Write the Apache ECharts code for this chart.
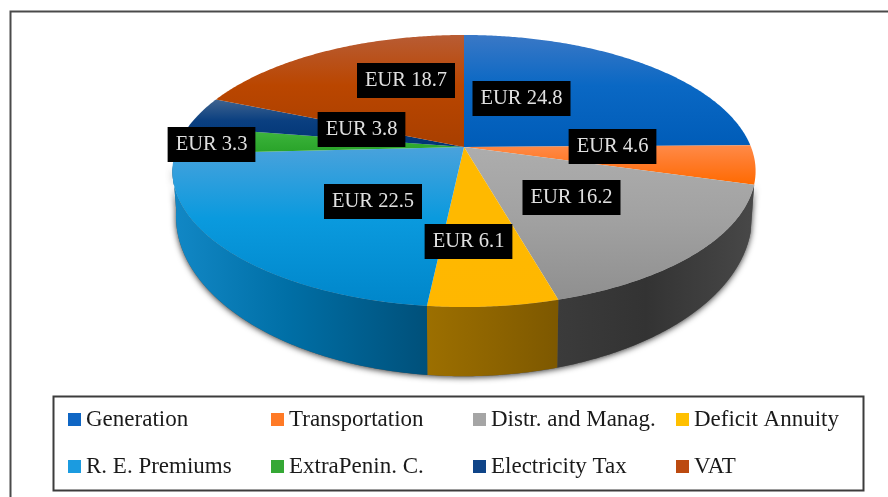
<!DOCTYPE html>
<html>
<head>
<meta charset="utf-8">
<title>Electricity cost breakdown</title>
<script src="https://cdn.jsdelivr.net/npm/echarts@6/dist/echarts.min.js"></script>
<style>
  html, body { margin: 0; padding: 0; background: #fff; }
  #chart { width: 888px; height: 497px; }
</style>
</head>
<body>
<div id="chart"></div>
<script>
// categories and values, clockwise from 12 o'clock
const categories = ['Generation', 'Transportation', 'Distr. and Manag.', 'Deficit Annuity',
  'R. E. Premiums', 'ExtraPenin. C.', 'Electricity Tax', 'VAT'];
const values = [24.8, 4.6, 16.2, 6.1, 22.5, 3.3, 3.8, 18.7];

// slice colours: legend, top surface (far to near), side wall (left to right)
const legendColors = ['#0f66c4', '#ff7a26', '#a5a5a5', '#ffc000', '#1b9be0', '#35a835', '#0f4488', '#bc4a10'];
const topColors = [
  ['#3a78c6', '#0a68c4', '#005cb8'],
  ['#ff8a48', '#ff7a28', '#ff6a00'],
  ['#adadad', '#a2a2a2', '#8f8f8f'],
  ['#ffb900', '#ffb900', '#ffb700'],
  ['#4aa2dc', '#0a9ade', '#0086ca'],
  ['#45b845', '#35ae35', '#28a228'],
  ['#40648f', '#0a3f80', '#003474'],
  ['#b85c34', '#ba4600', '#a83f00']
];
const wallColors = [
  ['#00447f', '#00447f', '#00447f'],
  ['#a84800', '#a84800', '#a84800'],
  ['#3b3b3b', '#333333', '#484848'],
  ['#9c6f00', '#8f6500', '#7d5800'],
  ['#1288c6', '#006fa6', '#00507a'],
  ['#1c6a1c', '#1c6a1c', '#1c6a1c'],
  ['#00244f', '#00244f', '#00244f'],
  ['#702a00', '#702a00', '#702a00']
];

// label box centres (placed by hand in the original chart)
const labelCenters = [[521.5, 98.5], [612.5, 146.5], [571.5, 197.5], [468.5, 241.5],
  [373, 201.5], [211.5, 144.5], [361.5, 129.5], [406, 80.5]];

// projected discs: shared centre x and perspective, own half axes and apex y
const CX = 464, PERSP = 0.1765;
const TOP_DISC = { y: 147, rx: 287, ry: 131.8 };
const BOTTOM_DISC = { y: 188, rx: 283.5, ry: 155 };
// part of the rim where the wall shows, in degrees
const WALL_FROM = 105.5, WALL_TO = 262;

const total = values.reduce((a, b) => a + b, 0);
const startAngles = values.map((_, i) => values.slice(0, i).reduce((a, b) => a + b, 0) / total * 360);

function rimPoint(deg, disc) {
  const a = deg * Math.PI / 180;
  const u = Math.sin(a), v = Math.cos(a);
  const w = 1 + PERSP * v;
  return [CX + disc.rx * u / w, disc.y - disc.ry * v / w];
}

function arcPoints(from, to, disc) {
  const pts = [];
  const n = Math.max(2, Math.ceil((to - from) * 2));
  for (let i = 0; i <= n; i++) pts.push(rimPoint(from + (to - from) * i / n, disc));
  return pts;
}

function wallPoints(from, to) {
  return arcPoints(from, to, TOP_DISC).concat(arcPoints(from, to, BOTTOM_DISC).reverse());
}

function gradient(x2, y2, c) {
  return new echarts.graphic.LinearGradient(0, 0, x2, y2, [
    { offset: 0, color: c[0] }, { offset: 0.45, color: c[1] }, { offset: 1, color: c[2] }
  ]);
}

function renderSlice(i, api) {
  const a0 = startAngles[i];
  const a1 = a0 + api.value(0) / total * 360;
  const children = [];
  const w0 = Math.max(a0, WALL_FROM), w1 = Math.min(a1, WALL_TO);
  if (w1 - w0 > 1) {
    children.push({
      type: 'polygon',
      z2: 1,
      shape: { points: wallPoints(w0, w1) },
      style: { fill: gradient(1, 0, wallColors[i]) }
    });
  }
  children.push({
    type: 'polygon',
    z2: 2,
    shape: { points: [[CX, TOP_DISC.y]].concat(arcPoints(a0, a1, TOP_DISC)) },
    style: { fill: gradient(0, 1, topColors[i]) }
  });
  return { type: 'group', children: children };
}

const sliceSeries = categories.map((name, i) => ({
  type: 'custom',
  name: name,
  coordinateSystem: 'none',
  z: 2,
  silent: true,
  animation: false,
  itemStyle: { color: legendColors[i] },
  data: [[values[i]]],
  renderItem: (params, api) => renderSlice(i, api)
}));

// soft shadow under the wall
const shadowSeries = {
  type: 'custom',
  name: 'shadow',
  coordinateSystem: 'none',
  z: 1,
  silent: true,
  animation: false,
  data: [[total]],
  renderItem: () => ({
    type: 'polygon',
    shape: { points: wallPoints(WALL_FROM, WALL_TO) },
    style: { fill: '#555', shadowBlur: 6, shadowColor: 'rgba(0,0,0,0.8)', shadowOffsetY: 1 }
  })
};

const labelSeries = {
  type: 'custom',
  name: 'labels',
  coordinateSystem: 'none',
  z: 3,
  silent: true,
  animation: false,
  data: values.map(v => [v]),
  renderItem: (params, api) => {
    const c = labelCenters[params.dataIndex];
    return {
      type: 'group',
      children: [{
        type: 'text',
        x: c[0],
        y: c[1],
        style: {
          text: 'EUR ' + api.value(0),
          fill: '#e0e0e0',
          font: '20.5px "Liberation Serif", serif',
          align: 'center',
          verticalAlign: 'middle',
          backgroundColor: '#000',
          padding: [8, 8, 6, 8]
        }
      }]
    };
  }
};

// legend: 4 columns of 2, each column its own legend so they line up
const legendColumns = [[68, 0, 4], [271, 1, 5], [473, 2, 6], [676, 3, 7]];
const legends = legendColumns.map(col => ({
  orient: 'vertical',
  left: col[0],
  top: 408,
  padding: 0,
  itemWidth: 13,
  itemHeight: 13,
  itemGap: 24,
  icon: 'rect',
  selectedMode: false,
  data: [categories[col[1]], categories[col[2]]],
  textStyle: {
    color: '#1a1a1a',
    fontFamily: '"Liberation Serif", serif',
    fontSize: 23,
    lineHeight: 23,
    padding: [0, 0, 0, 0]
  }
}));

const chart = echarts.init(document.getElementById('chart'), null, { renderer: 'canvas' });
chart.setOption({
  animation: false,
  backgroundColor: '#fff',
  tooltip: { show: false },
  legend: legends,
  graphic: [
    // outer frame, open on the right and bottom where the picture was cropped
    { type: 'polyline', shape: { points: [[10.5, 497], [10.5, 11.5], [888, 11.5]] },
      style: { stroke: '#4a4a4a', lineWidth: 2, fill: null } },
    // legend box
    { type: 'rect', shape: { x: 53.5, y: 396.5, width: 810, height: 94 },
      style: { stroke: '#3c3c3c', lineWidth: 2, fill: null } }
  ],
  series: [shadowSeries].concat(sliceSeries, [labelSeries])
});
window.addEventListener('resize', () => chart.resize());
</script>
</body>
</html>
